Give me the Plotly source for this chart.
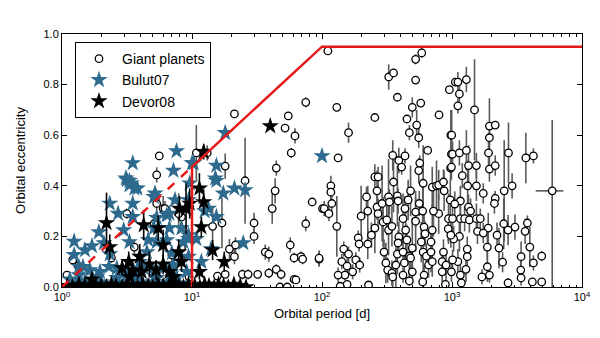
import plotly.graph_objects as go

# ---------------- data ----------------
giant_period = [
    1.09, 1.21, 1.33, 2.4, 3.15, 3.6, 5.1, 5.35, 5.6, 6.0,
    8.3, 7.0, 8.3, 2.9, 9.5, 1.6, 5.35, 6.2, 7.9, 8.3,
    10.8, 13.1, 18.0, 21.2, 25.6, 44.5, 52, 55, 58, 62,
    75, 111, 43.6, 41.4, 84, 101, 75, 30, 30, 17,
    14.4, 19.4, 21.6, 21.2, 36.6, 39, 57, 69, 71, 95,
    15.7, 18, 24.4, 27, 32, 39, 44.5, 48.5, 47.5, 61,
    63, 54, 61, 585, 525, 326, 355, 525, 955, 1060,
    380, 130, 255, 495, 575, 450, 535, 795, 160, 470,
    555, 980, 650, 133, 350, 390, 435, 410, 565, 555,
    990, 975, 255, 270, 1110, 1290, 1140, 1110, 1490, 995,
    1940, 2150, 1940, 1010, 1140, 1290, 1910, 2720, 3700, 4230,
    1340, 1540, 1940, 2150, 990, 1200, 2900, 1540, 1320, 1740,
    2150, 2120, 2520, 1160, 970, 1050, 1340, 1390, 940, 1160,
    1250, 1360, 1540, 1650, 3050, 2500, 2700, 3800, 3650, 1900,
    1570, 1740, 2220, 1140, 935, 1030, 1870, 2300, 3970, 1310,
    1310, 1110, 1010, 4900, 3400, 4230, 2450, 1870, 1280, 3380,
    990, 1160, 1940, 1700, 3400, 4150, 4900, 2700, 1180, 890,
    117, 117, 119, 104, 113, 130, 95, 147, 160, 142,
    156, 182, 195, 172, 150, 133, 156, 138, 228, 220,
    225, 265, 265, 270, 255, 240, 225, 290, 295, 190,
    193, 200, 325, 330, 315, 325, 300, 310, 320, 345,
    350, 370, 380, 380, 385, 355, 345, 390, 385, 420,
    435, 480, 460, 440, 450, 420, 470, 430, 480, 495,
    495, 525, 525, 420, 470, 600, 595, 610, 580, 620,
    600, 635, 690, 660, 705, 610, 595, 705, 760, 790,
    860, 870, 690, 705, 790, 860, 840, 840, 900, 980,
    1010, 720, 560,
]
giant_ecc = [
    0.047, 0.107, 0.083, 0.115, 0.29, 0.158, 0.25, 0.443, 0.518, 0.31,
    0.277, 0.127, 0.154, 0.06, 0.04, 0.01, 0.33, 0.31, 0.29, 0.107,
    0.53, 0.53, 0.478, 0.684, 0.42, 0.47, 0.628, 0.676, 0.53, 0.597,
    0.73, 0.933, 0.38, 0.31, 0.336, 0.31, 0.25, 0.253, 0.2, 0.253,
    0.24, 0.15, 0.166, 0.12, 0.138, 0.13, 0.166, 0.12, 0.11, 0.11,
    0.043, 0.05, 0.05, 0.05, 0.05, 0.055, 0.07, 0.05, 0.0, 0.03,
    0.028, 0.0, 0.115, 0.925, 0.9, 0.83, 0.846, 0.818, 0.78, 0.81,
    0.75, 0.71, 0.67, 0.71, 0.727, 0.664, 0.64, 0.68, 0.61, 0.61,
    0.59, 0.6, 0.54, 0.51, 0.52, 0.5, 0.518, 0.474, 0.49, 0.46,
    0.525, 0.47, 0.435, 0.435, 0.81, 0.82, 0.763, 0.716, 0.7, 0.6,
    0.636, 0.64, 0.59, 0.525, 0.53, 0.54, 0.53, 0.53, 0.51, 0.518,
    0.48, 0.48, 0.466, 0.48, 0.474, 0.44, 0.4, 0.4, 0.4, 0.37,
    0.35, 0.33, 0.38, 0.34, 0.344, 0.328, 0.316, 0.3, 0.27, 0.27,
    0.27, 0.265, 0.27, 0.27, 0.237, 0.25, 0.225, 0.253, 0.22, 0.233,
    0.22, 0.213, 0.205, 0.2, 0.23, 0.19, 0.158, 0.154, 0.158, 0.15,
    0.12, 0.1, 0.107, 0.122, 0.12, 0.095, 0.098, 0.08, 0.07, 0.067,
    0.06, 0.047, 0.047, 0.04, 0.036, 0.02, 0.02, 0.016, 0.016, 0.01,
    0.4, 0.375, 0.33, 0.31, 0.29, 0.24, 0.114, 0.15, 0.13, 0.1,
    0.083, 0.107, 0.087, 0.06, 0.047, 0.047, 0.01, 0.003, 0.008, 0.356,
    0.3, 0.38, 0.316, 0.29, 0.233, 0.205, 0.17, 0.33, 0.257, 0.194,
    0.17, 0.28, 0.356, 0.336, 0.265, 0.225, 0.138, 0.095, 0.067, 0.055,
    0.04, 0.087, 0.13, 0.36, 0.34, 0.415, 0.24, 0.198, 0.174, 0.27,
    0.31, 0.38, 0.344, 0.225, 0.186, 0.138, 0.122, 0.095, 0.115, 0.154,
    0.06, 0.296, 0.26, 0.047, 0.024, 0.41, 0.3, 0.237, 0.178, 0.21,
    0.138, 0.122, 0.138, 0.087, 0.1, 0.047, 0.02, 0.395, 0.4, 0.403,
    0.415, 0.38, 0.178, 0.225, 0.29, 0.138, 0.1, 0.06, 0.087, 0.205,
    0.27, 0.3, 0.33,
]
giant_ecc_err = [
    0.01, 0.02, 0.02, 0.02, 0.02, 0.03, 0.04, 0.03, 0.0, 0.05,
    0.03, 0.03, 0.03, 0.01, 0.01, 0.0, 0.04, 0.03, 0.08, 0.03,
    0.11, 0.03, 0.05, 0.0, 0.17, 0.03, 0.0, 0.0, 0.02, 0.03,
    0.02, 0.0, 0.05, 0.06, 0.0, 0.0, 0.03, 0.04, 0.03, 0.1,
    0.08, 0.04, 0.03, 0.03, 0.03, 0.03, 0.03, 0.02, 0.02, 0.03,
    0.01, 0.01, 0.02, 0.02, 0.01, 0.02, 0.02, 0.02, 0.0, 0.01,
    0.0, 0.0, 0.02, 0.02, 0.02, 0.05, 0.0, 0.0, 0.0, 0.0,
    0.0, 0.0, 0.0, 0.04, 0.0, 0.0, 0.06, 0.0, 0.04, 0.03,
    0.04, 0.1, 0.0, 0.0, 0.06, 0.05, 0.03, 0.03, 0.03, 0.05,
    0.05, 0.05, 0.05, 0.04, 0.04, 0.05, 0.03, 0.03, 0.2, 0.1,
    0.11, 0.0, 0.03, 0.05, 0.05, 0.08, 0.06, 0.12, 0.1, 0.03,
    0.08, 0.05, 0.05, 0.04, 0.05, 0.05, 0.05, 0.06, 0.1, 0.04,
    0.03, 0.04, 0.2, 0.06, 0.08, 0.05, 0.05, 0.05, 0.1, 0.08,
    0.05, 0.05, 0.06, 0.04, 0.05, 0.1, 0.06, 0.03, 0.05, 0.06,
    0.05, 0.04, 0.05, 0.06, 0.05, 0.05, 0.05, 0.08, 0.08, 0.05,
    0.04, 0.05, 0.04, 0.02, 0.06, 0.03, 0.04, 0.06, 0.05, 0.04,
    0.04, 0.04, 0.03, 0.03, 0.03, 0.0, 0.0, 0.02, 0.02, 0.01,
    0.04, 0.03, 0.04, 0.03, 0.03, 0.12, 0.03, 0.03, 0.03, 0.03,
    0.03, 0.03, 0.03, 0.03, 0.02, 0.03, 0.01, 0.0, 0.0, 0.04,
    0.1, 0.08, 0.05, 0.06, 0.1, 0.05, 0.06, 0.15, 0.1, 0.03,
    0.03, 0.12, 0.15, 0.05, 0.06, 0.1, 0.05, 0.08, 0.05, 0.05,
    0.04, 0.1, 0.08, 0.12, 0.05, 0.12, 0.08, 0.06, 0.05, 0.1,
    0.05, 0.1, 0.08, 0.1, 0.06, 0.05, 0.08, 0.04, 0.05, 0.12,
    0.05, 0.06, 0.12, 0.03, 0.02, 0.15, 0.1, 0.06, 0.08, 0.05,
    0.1, 0.05, 0.08, 0.05, 0.06, 0.04, 0.02, 0.08, 0.1, 0.06,
    0.05, 0.08, 0.06, 0.1, 0.08, 0.05, 0.05, 0.04, 0.06, 0.05,
    0.05, 0.1, 0.05,
]

# long-period planet with period uncertainty
outlier_period = [5900]
outlier_ecc = [0.38]
outlier_ecc_err_up = [0.28]
outlier_ecc_err_down = [0.38]
outlier_period_err_up = [1300]
outlier_period_err_down = [1500]

bulut_period = [
    3.15, 3.3, 3.6, 3.4, 3.5, 2.33, 2.7, 3.5, 5.1, 5.35,
    6.7, 8.3, 9.4, 1.92, 1.24, 1.24, 1.7, 2.1, 2.33, 2.98,
    3.3, 4.5, 3.96, 5.35, 6.4, 7.0, 9.4, 1.45, 1.64, 1.96,
    2.3, 2.64, 2.98, 3.57, 4.25, 5.1, 6.0, 7.2, 1.85, 2.64,
    3.75, 5.35, 7.6, 1.35, 9.1, 3.5, 7.6, 7.2, 3.1, 10.0,
    10.3, 15.4, 18.0, 100, 15.1, 15.4, 17.4, 21.2, 25.6, 13.4,
    15.4, 10.8, 9.4, 24.8, 3.3, 3.8, 5.2, 7.4, 6.4, 5.1,
    6.7, 4.6, 8.6, 9.4, 11.8, 1.5, 1.35, 1.15, 1.3, 1.5,
    2.0, 2.5, 3.0, 4.0, 5.0, 6.5, 8.0, 9.6, 12.5, 14.0,
]
bulut_ecc = [
    0.423, 0.403, 0.39, 0.41, 0.33, 0.33, 0.29, 0.277, 0.356, 0.273,
    0.29, 0.233, 0.344, 0.217, 0.18, 0.127, 0.162, 0.174, 0.13, 0.225,
    0.178, 0.138, 0.1, 0.178, 0.186, 0.134, 0.12, 0.08, 0.067, 0.06,
    0.08, 0.075, 0.055, 0.06, 0.075, 0.06, 0.075, 0.087, 0.04, 0.036,
    0.04, 0.036, 0.04, 0.047, 0.06, 0.49, 0.537, 0.46, 0.43, 0.49,
    0.49, 0.48, 0.609, 0.518, 0.43, 0.42, 0.37, 0.39, 0.383, 0.31,
    0.277, 0.19, 0.19, 0.174, 0.42, 0.39, 0.37, 0.344, 0.285, 0.233,
    0.233, 0.186, 0.178, 0.205, 0.1, 0.146, 0.08, 0.03, 0.02, 0.02,
    0.02, 0.015, 0.02, 0.015, 0.02, 0.02, 0.015, 0.41, 0.3, 0.15,
]

devor_period = [
    12.3, 40, 2.2, 2.33, 4.25, 5.5, 6.0, 8.0, 9.6, 7.9,
    3.26, 3.96, 4.7, 6.0, 8.3, 3.5, 4.1, 5.3, 6.7, 2.9,
    1.7, 3.3, 7.2, 11.4, 12.3, 9.0, 11.8, 14.4, 17.7, 11.4,
    1.1, 1.2, 1.35, 1.5, 1.65, 1.8, 2.0, 2.2, 2.4, 2.6,
    2.9, 3.2, 3.5, 3.8, 4.2, 4.6, 5.0, 5.5, 6.0, 6.6,
    7.2, 7.9, 8.6, 9.4, 10.5, 11.5, 12.5, 13.5, 14.8, 16,
    17.5, 19, 21, 23.5, 26,
]
devor_ecc = [
    0.534, 0.636, 0.253, 0.158, 0.245, 0.233, 0.166, 0.31, 0.33, 0.138,
    0.1, 0.12, 0.09, 0.09, 0.1, 0.067, 0.06, 0.067, 0.06, 0.075,
    0.03, 0.04, 0.04, 0.39, 0.336, 0.31, 0.237, 0.146, 0.1, 0.06,
    0.005, 0.0, 0.01, 0.005, 0.0, 0.01, 0.005, 0.0, 0.01, 0.005,
    0.0, 0.01, 0.005, 0.0, 0.01, 0.005, 0.0, 0.01, 0.005, 0.0,
    0.01, 0.005, 0.0, 0.01, 0.005, 0.0, 0.01, 0.005, 0.0, 0.01,
    0.005, 0.0, 0.01, 0.005, 0.0,
]
devor_ecc_err = [
    0.03, 0.0, 0.12, 0.05, 0.06, 0.05, 0.06, 0.05, 0.06, 0.05,
    0.04, 0.05, 0.05, 0.04, 0.04, 0.03, 0.05, 0.04, 0.03, 0.03,
    0.02, 0.02, 0.02, 0.06, 0.05, 0.1, 0.04, 0.04, 0.04, 0.03,
    0.02, 0.01, 0.02, 0.01, 0.02, 0.01, 0.02, 0.01, 0.02, 0.01,
    0.02, 0.01, 0.02, 0.01, 0.02, 0.01, 0.02, 0.01, 0.02, 0.01,
    0.02, 0.01, 0.02, 0.01, 0.02, 0.01, 0.02, 0.01, 0.02, 0.01,
    0.02, 0.01, 0.02, 0.01, 0.02,
]

# limit lines
limit_base_period = [1, 10]
limit_base_ecc = [0.0, 0.0]
limit_period = [10, 10, 100, 10000]
limit_ecc = [0.0, 0.475, 0.95, 0.95]
limit_dash_period = [1, 10]
limit_dash_ecc = [0.0, 0.475]

x_tickvals = [1, 10, 100, 1000, 10000]
x_ticktext = ["10<sup>0</sup>", "10<sup>1</sup>", "10<sup>2</sup>", "10<sup>3</sup>", "10<sup>4</sup>"]
y_tickvals = [0.0, 0.2, 0.4, 0.6, 0.8, 1.0]
y_ticktext = ["0.0", "0.2", "0.4", "0.6", "0.8", "1.0"]

assert len(giant_period) == len(giant_ecc) == len(giant_ecc_err), (len(giant_period), len(giant_ecc), len(giant_ecc_err))
assert len(bulut_period) == len(bulut_ecc)
assert len(devor_period) == len(devor_ecc) == len(devor_ecc_err), (len(devor_period), len(devor_ecc), len(devor_ecc_err))

RED = "#e41a1a"
BLUE = "#2e6a8d"
GREY = "#5a5a5a"

fig = go.Figure()

fig.add_trace(go.Scatter(
    x=giant_period, y=giant_ecc, mode="markers", name="Giant planets",
    marker=dict(symbol="circle", size=7.5, color="white", line=dict(color="black", width=1.3)),
    error_y=dict(type="data", array=giant_ecc_err, color=GREY, thickness=1.6, width=0),
))
fig.add_trace(go.Scatter(
    x=outlier_period, y=outlier_ecc, mode="markers", showlegend=False,
    marker=dict(symbol="circle", size=7.5, color="white", line=dict(color="black", width=1.3)),
    error_y=dict(type="data", symmetric=False, array=outlier_ecc_err_up,
                 arrayminus=outlier_ecc_err_down, color=GREY, thickness=1.6, width=0),
    error_x=dict(type="data", symmetric=False, array=outlier_period_err_up,
                 arrayminus=outlier_period_err_down, color=GREY, thickness=1.6, width=0),
))
fig.add_trace(go.Scatter(
    x=limit_base_period, y=limit_base_ecc, mode="lines", showlegend=False,
    line=dict(color=RED, width=2.5), cliponaxis=False,
))
fig.add_trace(go.Scatter(
    x=bulut_period, y=bulut_ecc, mode="markers", name="Bulut07",
    marker=dict(symbol="star", size=13, color=BLUE, line=dict(width=0)),
))
fig.add_trace(go.Scatter(
    x=devor_period, y=devor_ecc, mode="markers", name="Devor08",
    marker=dict(symbol="star", size=13, color="black", line=dict(width=0)),
    error_y=dict(type="data", array=devor_ecc_err, color="black", thickness=1.6, width=0),
))
fig.add_trace(go.Scatter(
    x=limit_dash_period, y=limit_dash_ecc, mode="lines", showlegend=False,
    line=dict(color=RED, width=2.5, dash="dash"),
))
fig.add_trace(go.Scatter(
    x=limit_period, y=limit_ecc, mode="lines", showlegend=False,
    line=dict(color=RED, width=2.5),
))

axis_font = dict(family="Liberation Sans, Arial, sans-serif", size=11, color="black")

# the page adds an 8 px body margin, so the margins below compensate for it
fig.update_layout(
    width=600, height=338,
    margin=dict(l=52, r=26, t=26, b=59),
    paper_bgcolor="white", plot_bgcolor="white",
    font=dict(family="Liberation Sans, Arial, sans-serif", color="black"),
    showlegend=True,
    legend=dict(
        x=0.025, y=0.968, xanchor="left", yanchor="top",
        bgcolor="white", bordercolor="black", borderwidth=1,
        font=dict(size=14, family="Liberation Sans, Arial, sans-serif"),
        itemsizing="trace", tracegroupgap=0, itemwidth=36,
    ),
    xaxis=dict(
        type="log", range=[0, 4],
        tickvals=x_tickvals, ticktext=x_ticktext, tickfont=axis_font,
        ticks="inside", ticklen=5, tickcolor="black", mirror="allticks",
        showline=True, linecolor="black", linewidth=1, showgrid=False, zeroline=False,
        minor=dict(ticks="inside", ticklen=2.5, tickcolor="black", dtick="D1", showgrid=False),
        title=dict(text="Orbital period [d]", font=dict(size=13), standoff=6),
    ),
    yaxis=dict(
        range=[0, 1],
        tickvals=y_tickvals, ticktext=y_ticktext, tickfont=axis_font,
        ticks="inside", ticklen=5, tickcolor="black", mirror="allticks",
        showline=True, linecolor="black", linewidth=1, showgrid=False, zeroline=False,
        title=dict(text="Orbital eccentricity", font=dict(size=13), standoff=14),
    ),
)

fig.write_html("out.html")
